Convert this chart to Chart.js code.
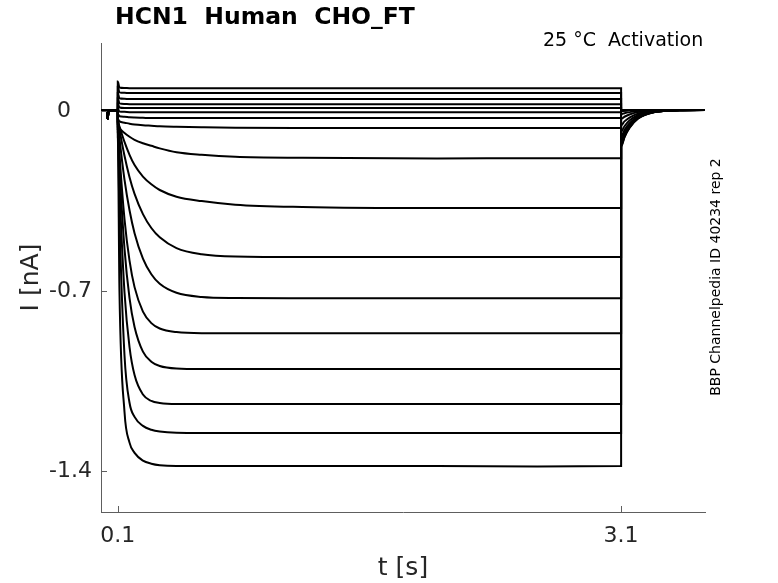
<!DOCTYPE html>
<html>
<head>
<meta charset="utf-8">
<script src="https://cdn.jsdelivr.net/npm/chart.js@4.4.1/dist/chart.umd.min.js"></script>
<style>
  body { margin: 0; background: #fff; }
  #wrap { width: 778px; height: 583px; }
</style>
</head>
<body>
<div id="wrap"><canvas id="hcn" width="778" height="583"></canvas></div>
<script>
// time points [s], shared by all sweeps
const holdTime = [0, 0.035, 0.04, 0.045, 0.1];
const holdCurrent = [0.003, 0.003, -0.03, 0.003, 0.003];

const stepTime = [0.1, 0.11, 0.14, 0.17, 0.2, 0.25, 0.3, 0.35, 0.45, 0.6, 0.8, 1.2, 2.0, 2.6, 3.1];
const tailTime = [3.1, 3.12, 3.15, 3.2, 3.3, 3.45, 3.6];

// current [nA] during the test step, one row per sweep (top to bottom)
const stepCurrent = [
    [0.115, 0.092, 0.090, 0.089, 0.089, 0.089, 0.089, 0.089, 0.089, 0.089, 0.089, 0.089, 0.089, 0.089, 0.089],
    [0.095, 0.073, 0.071, 0.070, 0.070, 0.070, 0.070, 0.070, 0.070, 0.070, 0.070, 0.070, 0.070, 0.070, 0.070],
    [0.070, 0.050, 0.048, 0.047, 0.047, 0.047, 0.047, 0.047, 0.047, 0.047, 0.047, 0.047, 0.047, 0.047, 0.047],
    [0.050, 0.030, 0.028, 0.027, 0.027, 0.027, 0.027, 0.027, 0.027, 0.027, 0.027, 0.027, 0.027, 0.027, 0.027],
    [0.030, 0.014, 0.012, 0.012, 0.012, 0.012, 0.012, 0.012, 0.012, 0.012, 0.012, 0.012, 0.012, 0.012, 0.012],
    [0.010, -0.002, -0.003, -0.004, -0.004, -0.004, -0.004, -0.004, -0.004, -0.004, -0.004, -0.004, -0.004, -0.004, -0.004],
    [-0.010, -0.020, -0.022, -0.024, -0.025, -0.026, -0.027, -0.027, -0.027, -0.027, -0.027, -0.027, -0.027, -0.027, -0.027],
    [-0.030, -0.040, -0.045, -0.049, -0.052, -0.055, -0.057, -0.059, -0.061, -0.063, -0.065, -0.066, -0.066, -0.066, -0.066],
    [-0.045, -0.065, -0.085, -0.100, -0.112, -0.125, -0.135, -0.145, -0.160, -0.170, -0.178, -0.182, -0.184, -0.183, -0.183],
    [-0.040, -0.060, -0.120, -0.170, -0.210, -0.255, -0.285, -0.307, -0.333, -0.350, -0.364, -0.373, -0.377, -0.377, -0.377],
    [-0.030, -0.070, -0.174, -0.257, -0.322, -0.401, -0.455, -0.491, -0.533, -0.557, -0.566, -0.568, -0.568, -0.568, -0.568],
    [-0.040, -0.105, -0.267, -0.386, -0.475, -0.574, -0.635, -0.672, -0.707, -0.723, -0.727, -0.728, -0.728, -0.728, -0.728],
    [-0.050, -0.165, -0.420, -0.582, -0.685, -0.780, -0.825, -0.846, -0.860, -0.864, -0.864, -0.864, -0.864, -0.864, -0.864],
    [-0.060, -0.212, -0.535, -0.728, -0.840, -0.936, -0.975, -0.992, -1.002, -1.004, -1.004, -1.004, -1.004, -1.004, -1.004],
    [-0.070, -0.285, -0.705, -0.918, -1.027, -1.103, -1.128, -1.136, -1.140, -1.140, -1.140, -1.140, -1.140, -1.140, -1.140],
    [-0.080, -0.410, -0.950, -1.135, -1.190, -1.225, -1.240, -1.247, -1.252, -1.253, -1.253, -1.253, -1.253, -1.253, -1.253],
    [-0.100, -0.700, -1.170, -1.290, -1.330, -1.360, -1.372, -1.378, -1.381, -1.381, -1.381, -1.381, -1.381, -1.383, -1.381]
];

// tail current [nA] after the step, same sweep order
const tailCurrent = [
    [0.002, 0.003, 0.004, 0.004, 0.004, 0.004, 0.004],
    [0.002, 0.003, 0.004, 0.004, 0.004, 0.004, 0.004],
    [0.002, 0.003, 0.004, 0.004, 0.004, 0.004, 0.004],
    [0.002, 0.003, 0.004, 0.004, 0.004, 0.004, 0.004],
    [0.002, 0.003, 0.004, 0.004, 0.004, 0.004, 0.004],
    [0.001, 0.003, 0.004, 0.004, 0.004, 0.004, 0.004],
    [0.000, 0.002, 0.004, 0.004, 0.004, 0.004, 0.004],
    [-0.012, -0.008, -0.004, 0.000, 0.003, 0.004, 0.004],
    [-0.030, -0.022, -0.013, -0.004, 0.002, 0.004, 0.004],
    [-0.055, -0.040, -0.025, -0.010, 0.001, 0.004, 0.004],
    [-0.080, -0.059, -0.037, -0.016, -0.001, 0.003, 0.004],
    [-0.100, -0.074, -0.047, -0.021, -0.002, 0.003, 0.004],
    [-0.115, -0.085, -0.054, -0.025, -0.003, 0.003, 0.004],
    [-0.125, -0.093, -0.059, -0.027, -0.003, 0.003, 0.004],
    [-0.130, -0.097, -0.062, -0.028, -0.004, 0.003, 0.004],
    [-0.135, -0.100, -0.064, -0.029, -0.004, 0.003, 0.004],
    [-0.138, -0.102, -0.066, -0.030, -0.004, 0.003, 0.004]
];

const xTicks = [0.1, 3.1];
const yTicks = [-1.4, -0.7, 0];

const titleText = 'HCN1  Human  CHO_FT';
const conditionText = '25 \u00B0C  Activation';
const sourceText = 'BBP Channelpedia ID 40234 rep 2';

const fontName = '"DejaVu Sans", sans-serif';
const textColor = '#262626';
const axisColor = '#5e5e5e';

// build one dataset per sweep: holding + step + tail
const datasets = [];
for (let s = 0; s < stepCurrent.length; s++) {
    const pts = [];
    for (let k = 0; k < holdTime.length; k++) pts.push({x: holdTime[k], y: holdCurrent[k]});
    for (let k = 0; k < stepTime.length; k++) pts.push({x: stepTime[k], y: stepCurrent[s][k]});
    for (let k = 0; k < tailTime.length; k++) pts.push({x: tailTime[k], y: tailCurrent[s][k]});
    datasets.push({
        label: 'sweep ' + (s + 1),
        data: pts,
        borderColor: '#000',
        borderWidth: 2,
        pointRadius: 0,
        cubicInterpolationMode: 'monotone',
        fill: false
    });
}

// extra texts and the inward tick marks
const decorations = {
    id: 'decorations',
    afterDraw(chart) {
        const ctx = chart.ctx;
        const xs = chart.scales.x, ys = chart.scales.y;
        ctx.save();
        // tick marks pointing into the plot
        ctx.strokeStyle = axisColor;
        ctx.lineWidth = 1;
        ctx.beginPath();
        xTicks.forEach(v => {
            const px = Math.round(xs.getPixelForValue(v)) + 0.5;
            ctx.moveTo(px, ys.bottom);
            ctx.lineTo(px, ys.bottom - 6);
        });
        yTicks.forEach(v => {
            const py = Math.round(ys.getPixelForValue(v)) + 0.5;
            ctx.moveTo(xs.left, py);
            ctx.lineTo(xs.left + 6, py);
        });
        ctx.stroke();

        ctx.fillStyle = '#000';
        ctx.textBaseline = 'middle';
        ctx.textAlign = 'left';
        ctx.font = 'bold 23.5px ' + fontName;
        ctx.fillText(titleText, 115, 18);
        ctx.font = '19px ' + fontName;
        ctx.fillText(conditionText, 543, 41);

        ctx.translate(716, 277);
        ctx.rotate(-Math.PI / 2);
        ctx.textAlign = 'center';
        ctx.font = '14px ' + fontName;
        ctx.fillText(sourceText, 0, 0);
        ctx.restore();
    }
};

new Chart(document.getElementById('hcn'), {
    type: 'line',
    data: { datasets: datasets },
    plugins: [decorations],
    options: {
        responsive: false,
        animation: false,
        devicePixelRatio: 1,
        layout: { padding: { top: 43, right: 73, left: 0, bottom: 0 } },
        plugins: {
            legend: { display: false },
            tooltip: { enabled: false }
        },
        scales: {
            x: {
                type: 'linear',
                min: 0,
                max: 3.6,
                afterBuildTicks: scale => { scale.ticks = xTicks.map(v => ({value: v})); },
                afterFit: scale => { scale.height = 71; },
                grid: { display: false, drawTicks: false },
                border: { display: true, color: axisColor, width: 1 },
                ticks: {
                    color: textColor,
                    font: { family: fontName, size: 22 },
                    padding: 11,
                    maxRotation: 0,
                    callback: v => String(v)
                },
                title: {
                    display: true,
                    text: 't [s]',
                    color: textColor,
                    font: { family: fontName, size: 25 },
                    padding: { top: 0, bottom: 0 }
                }
            },
            y: {
                type: 'linear',
                min: -1.56,
                max: 0.265,
                afterBuildTicks: scale => { scale.ticks = yTicks.map(v => ({value: v})); },
                afterFit: scale => { scale.width = 101; },
                grid: { display: false, drawTicks: false },
                border: { display: true, color: axisColor, width: 1 },
                ticks: {
                    color: textColor,
                    font: { family: fontName, size: 22 },
                    padding: 9,
                    // the zero label sits further left in the original
                    callback: v => (v === 0 ? '0   ' : String(v))
                },
                title: {
                    display: true,
                    text: 'I [nA]',
                    color: textColor,
                    font: { family: fontName, size: 25 },
                    padding: { top: 16, bottom: 0 }
                }
            }
        }
    }
});
</script>
</body>
</html>
